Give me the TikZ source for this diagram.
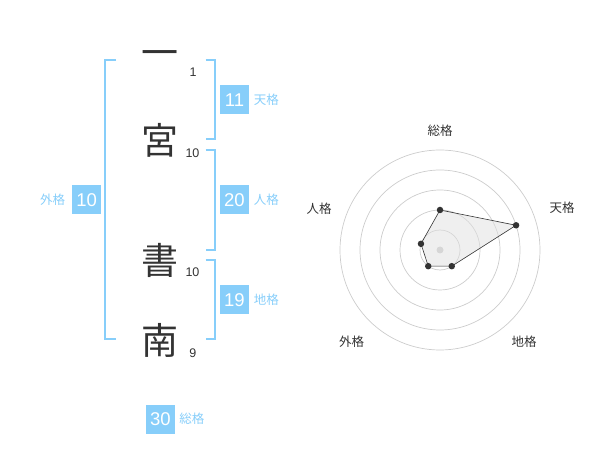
\documentclass[tikz,border=0pt]{standalone}
\usepackage{fontspec}
\setmainfont{Liberation Sans}
\newfontfamily\jp{Noto Sans CJK JP}
\usetikzlibrary{positioning}
\definecolor{sky}{HTML}{87CEFA}
\definecolor{ink}{HTML}{333333}
\tikzset{
    kanji/.style={font=\jp\fontsize{37}{40}\selectfont, text=ink, inner sep=0pt},
    strokes/.style={font=\fontsize{12.5}{14}\selectfont, text=ink, inner sep=0pt},
    score/.style={fill=sky, text=white, minimum size=29pt, inner sep=0pt, font=\fontsize{18.5}{20}\selectfont},
    kaku/.style={font=\jp\fontsize{12.5}{14}\selectfont, text=sky, inner sep=0pt},
    bracket/.style={draw=sky, line width=1.8pt},
    ring/.style={draw=black!20, line width=0.7pt},
    axis/.style={font=\jp\fontsize{12.5}{14}\selectfont, text=ink, inner sep=0pt},
    dot/.style={circle, fill=ink, inner sep=0pt, minimum size=6.5pt},
}
\begin{document}
\begin{tikzpicture}[x=1pt,y=-1pt]
    \useasboundingbox (0,0) rectangle (600,470);
    % name, one character per line
    \node[kanji] (K1) at (160,58.5) {一};
    \node[kanji] (K2) at (160,140.5) {宮};
    \node[kanji] (K3) at (160,260.5) {書};
    \node[kanji] (K4) at (160,340.5) {南};
    \node[strokes] (S1) at (193,72.7) {1};
    \node[strokes] (S2) at (192.5,152.8) {10};
    \node[strokes] (S3) at (192.5,272.5) {10};
    \node[strokes] (S4) at (192.8,352.8) {9};
    % brackets
    \draw[bracket] (116,60) -| (105,339) -- (116,339);
    \draw[bracket] (205.7,60) -| (214.7,139.3) -- (205.7,139.3);
    \draw[bracket] (205.7,150) -| (214.7,250) -- (205.7,250);
    \draw[bracket] (205.7,260) -| (214.7,339) -- (205.7,339);
    % scores
    \node[score] (Ten) at (234.5,100) {11};
    \node[kaku, right=4.5pt of Ten] (TenL) {天格};
    \node[score] (Jin) at (234.5,200) {20};
    \node[kaku, right=4.5pt of Jin] (JinL) {人格};
    \node[score] (Chi) at (234.5,300) {19};
    \node[kaku, right=4.5pt of Chi] (ChiL) {地格};
    \node[score] (Gai) at (86.7,200) {10};
    \node[kaku, left=6.6pt of Gai] (GaiL) {外格};
    \node[score] (Sou) at (160.5,419) {30};
    \node[kaku, right=4pt of Sou] (SouL) {総格};
    % radar chart
    \begin{scope}[shift={(440,250)}]
        \foreach \r in {20,40,...,100}
            \draw[ring] (0,0) circle[radius=\r pt];
        \fill[black!20] (0,0) circle[radius=3.5pt];
        \node[inner sep=0pt] (pSou) at (-90:40) {};
        \node[inner sep=0pt] (pTen) at (-18:80) {};
        \node[inner sep=0pt] (pChi) at (54:20) {};
        \node[inner sep=0pt] (pGai) at (126:20) {};
        \node[inner sep=0pt] (pJin) at (198:20) {};
        \draw[ink, line width=0.6pt, fill=black!12, fill opacity=0.5]
            (pSou.center) -- (pTen.center) -- (pChi.center) -- (pGai.center) -- (pJin.center) -- cycle;
        \foreach \p in {pSou,pTen,pChi,pGai,pJin}
            \node[dot] at (\p) {};
    \end{scope}
    \node[axis] (aSou) at (440,130.7) {総格};
    \node[axis] (aTen) at (562,208) {天格};
    \node[axis] (aJin) at (319,209) {人格};
    \node[axis] (aGai) at (351.7,341.7) {外格};
    \node[axis] (aChi) at (524,341.7) {地格};
\end{tikzpicture}
\end{document}
